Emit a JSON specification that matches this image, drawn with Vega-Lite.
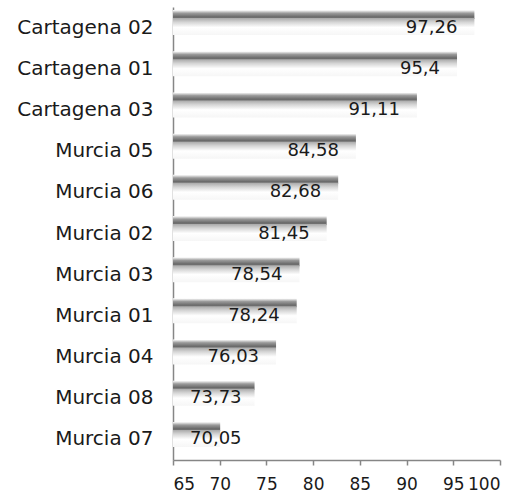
{
  "$schema": "https://vega.github.io/schema/vega-lite/v6.json",
  "width": 327,
  "height": 453,
  "autosize": "none",
  "padding": {"left": 173, "top": 7, "right": 20, "bottom": 36},
  "background": "white",
  "config": {
    "view": {"stroke": null},
    "font": "DejaVu Sans",
    "locale": {"number": {"decimal": ",", "thousands": ".", "grouping": [3], "currency": ["", " €"]}}
  },
  "data": {
    "values": [
      {"station": "Cartagena 02", "value": 97.26},
      {"station": "Cartagena 01", "value": 95.4},
      {"station": "Cartagena 03", "value": 91.11},
      {"station": "Murcia 05", "value": 84.58},
      {"station": "Murcia 06", "value": 82.68},
      {"station": "Murcia 02", "value": 81.45},
      {"station": "Murcia 03", "value": 78.54},
      {"station": "Murcia 01", "value": 78.24},
      {"station": "Murcia 04", "value": 76.03},
      {"station": "Murcia 08", "value": 73.73},
      {"station": "Murcia 07", "value": 70.05}
    ]
  },
  "encoding": {
    "y": {
      "field": "station", "type": "nominal", "sort": null,
      "scale": {"paddingInner": 0, "paddingOuter": 0},
      "axis": {"title": null, "ticks": false, "domainColor": "#868686", "domainWidth": 1.5,
        "labelFont": "DejaVu Sans", "labelFontSize": 20, "labelColor": "#1a1a1a", "labelPadding": 20}
    }
  },
  "layer": [
    {
      "mark": {"type": "bar", "height": 9, "yOffset": -13, "x2Offset": -3, "clip": true,
        "color": {"gradient": "linear", "x1": 0, "y1": 0, "x2": 0, "y2": 1,
          "stops": [{"offset": 0, "color": "#ffffff"}, {"offset": 0.35, "color": "#9a9a9a"}, {"offset": 0.75, "color": "#6a6a6a"}, {"offset": 1, "color": "#7a7a7a"}]}},
      "encoding": {
        "x": {"field": "value", "type": "quantitative",
          "scale": {"domain": [65, 100], "nice": false, "zero": false},
          "axis": {"title": null, "values": [65, 70, 75, 80, 85, 90, 95, 100], "grid": false,
            "domainColor": "#868686", "domainWidth": 1.5, "tickColor": "#868686", "tickSize": 5, "tickWidth": 1.5,
            "labelFont": "DejaVu Sans", "labelFontSize": 17, "labelColor": "#1a1a1a", "labelPadding": 11}},
        "x2": {"datum": 65}
      }
    },
    {
      "mark": {"type": "bar", "height": 17, "yOffset": -1, "clip": true,
        "color": {"gradient": "linear", "x1": 0, "y1": 0, "x2": 0, "y2": 1,
          "stops": [{"offset": 0, "color": "#a8a8a8"}, {"offset": 0.25, "color": "#d6d6d6"}, {"offset": 0.55, "color": "#ffffff"}, {"offset": 1, "color": "#f6f6f6"}]}},
      "encoding": {
        "x": {"field": "value", "type": "quantitative"},
        "x2": {"datum": 65}
      }
    },
    {
      "transform": [{"filter": "datum.value >= 74.2"}],
      "mark": {"type": "text", "align": "right", "baseline": "middle", "dx": -17, "dy": 0, "font": "DejaVu Sans", "fontSize": 18, "color": "#1a1a1a"},
      "encoding": {
        "x": {"field": "value", "type": "quantitative"},
        "text": {"field": "value", "type": "quantitative", "format": ".4~r"}
      }
    },
    {
      "transform": [{"filter": "datum.value < 74.2"}],
      "mark": {"type": "text", "align": "left", "baseline": "middle", "dx": 17, "dy": 0, "font": "DejaVu Sans", "fontSize": 18, "color": "#1a1a1a"},
      "encoding": {
        "x": {"datum": 65, "type": "quantitative"},
        "text": {"field": "value", "type": "quantitative", "format": ".4~r"}
      }
    }
  ]
}
